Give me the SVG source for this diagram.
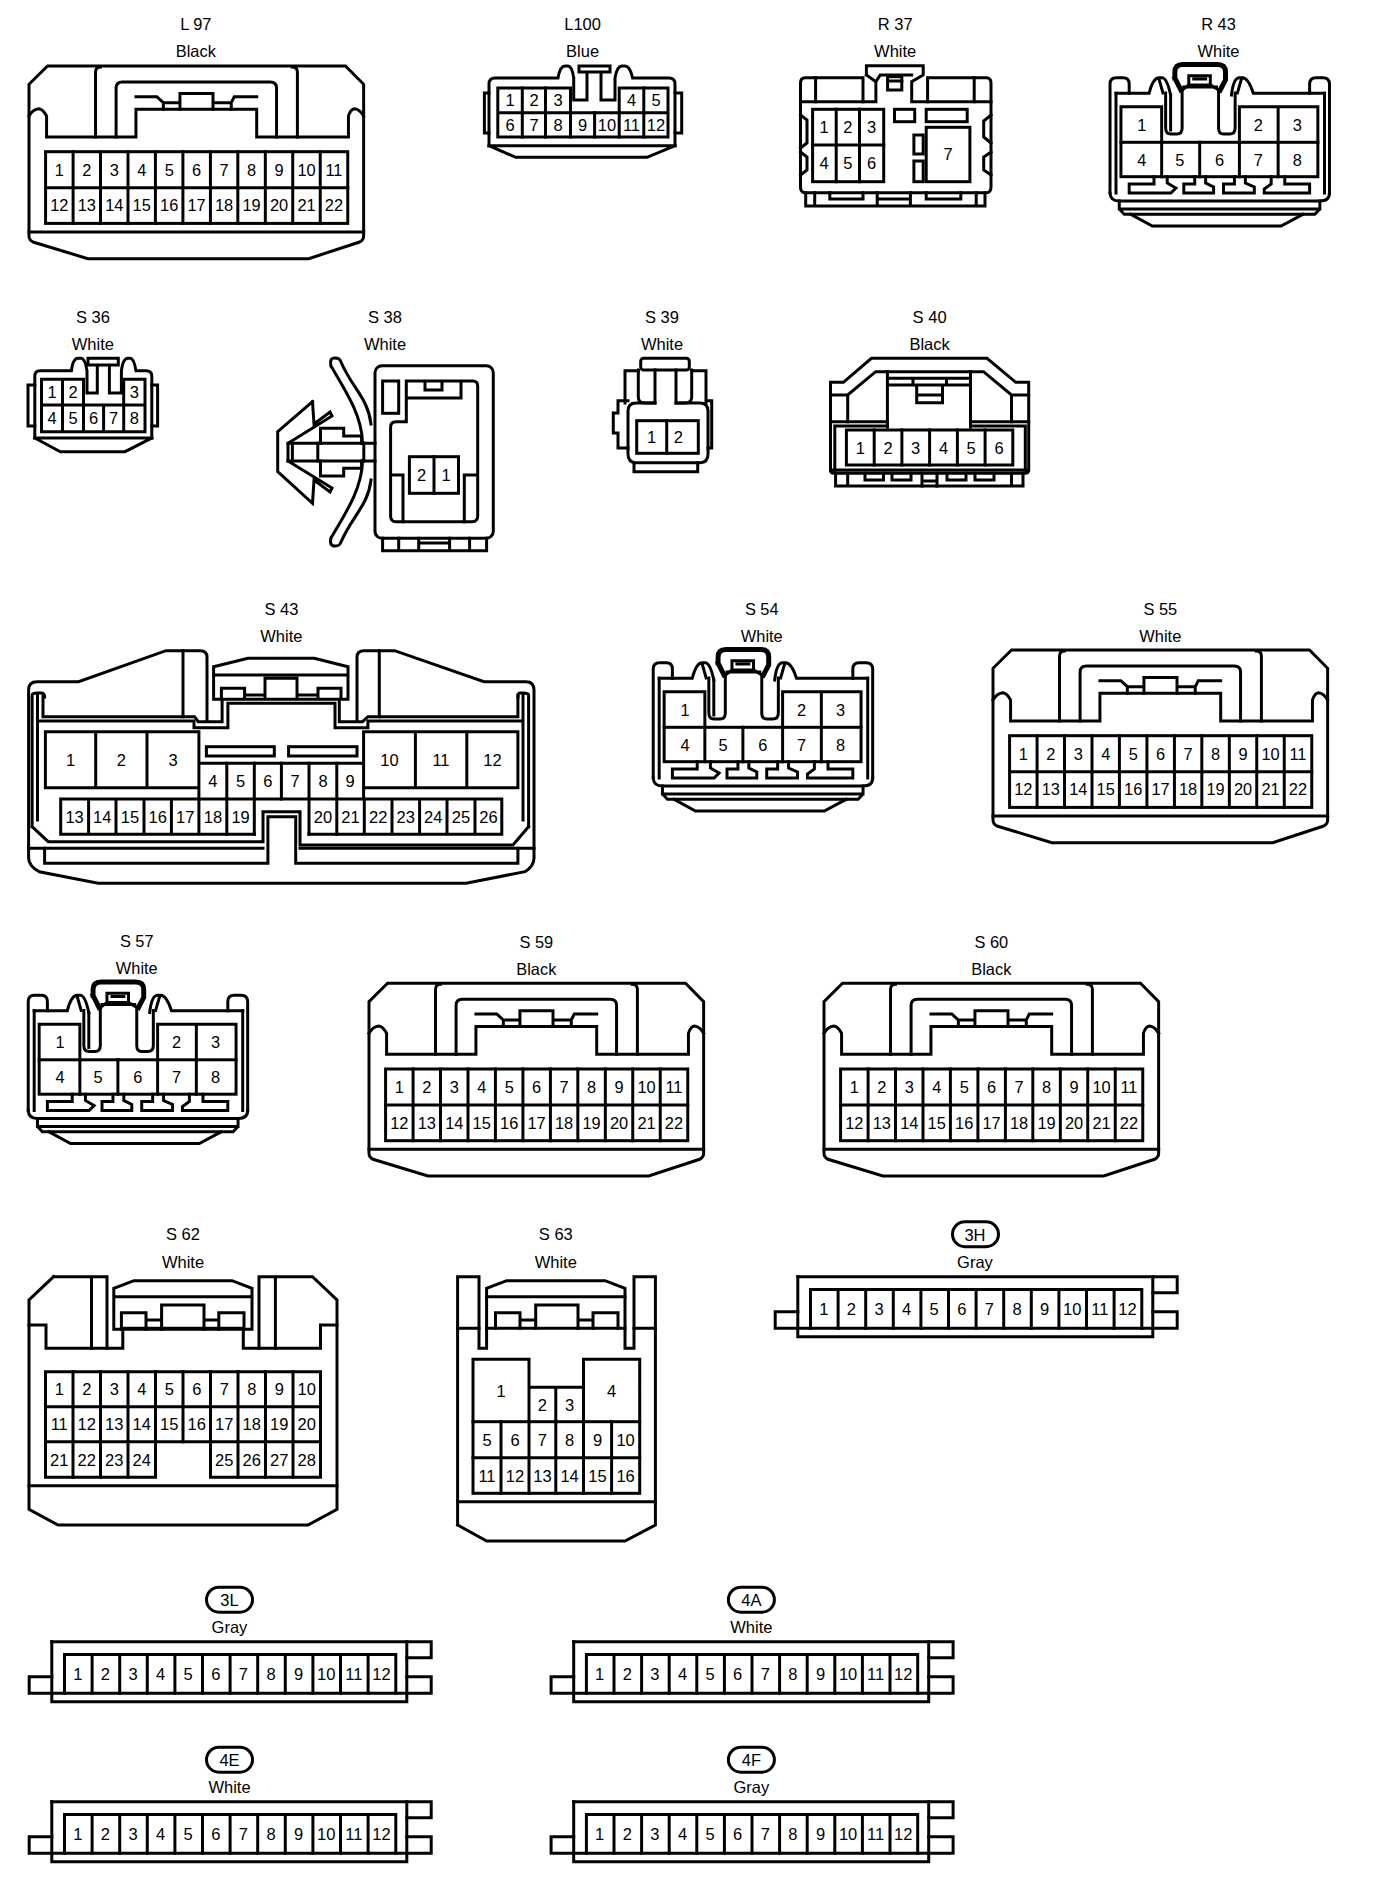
<svg xmlns="http://www.w3.org/2000/svg" xmlns:xlink="http://www.w3.org/1999/xlink" width="1376" height="1882" viewBox="0 0 1376 1882">
<style>
.l{fill:none;stroke:#000;stroke-width:3;stroke-linecap:square}
.h{fill:none;stroke:#000;stroke-width:5}
text{font-family:"Liberation Sans",Arial,sans-serif;font-size:16.5px;fill:#000;text-anchor:middle}
</style>
<defs>
<g id="b22" class="l">
<path d="M18.7,0 H318.7 L337,18.3 V170 Q337,174 333,176 L281.7,192.7 H59.3 L4,176 Q0,174 0,170 V18.3 Z"/>
<path d="M0,50 Q4,43 10,42.7 Q14,43 17.7,50 V71 H107.7 V43.3 H229.3 V71 H321.7 V50 Q324,43 327.7,42.7 Q333,43 337,50"/>
<path d="M67,71 V6 Q67,1 72,1 M270.3,71 V6 Q270.3,1 265,1"/>
<path d="M87.7,71 V22 Q87.7,16 94,16 H243 Q249.3,16 249.3,22 V71"/>
<path d="M107.7,30.7 H128.7 L135.3,36.7 H152 V27.4 H185.3 V43.3 M185.3,36.7 H203.7 L206.7,30.7 H229.3 M152,36.7 V43.3 M135.3,36.7 V43.3 M203.7,36.7 V43.3"/>
<path d="M0,166 H337"/>
<rect x="16.7" y="85.7" width="304.3" height="71.7"/>
<path d="M16.7,121.7 H321 M44.4,85.7 V157.4 M72,85.7 V157.4 M99.7,85.7 V157.4 M127.3,85.7 V157.4 M155,85.7 V157.4 M182.7,85.7 V157.4 M210.3,85.7 V157.4 M238,85.7 V157.4 M265.6,85.7 V157.4 M293.3,85.7 V157.4"/>
</g>
<g id="b12" class="l">
<path d="M0,0 V60 H355 V0"/>
<path d="M0,0 H379.4 V16 H355 M355,35 H379.4 V51.6 H-22.6 V35 H0"/>
<path d="M12.7,51.6 V12.7 H344 V51.6"/>
<path d="M40.3,12.7 V51.6 M67.9,12.7 V51.6 M95.5,12.7 V51.6 M123.1,12.7 V51.6 M150.7,12.7 V51.6 M178.3,12.7 V51.6 M205.9,12.7 V51.6 M233.5,12.7 V51.6 M261.1,12.7 V51.6 M288.7,12.7 V51.6 M316.3,12.7 V51.6"/>
</g>
<g id="b8" class="l">
<path d="M1110.7,193 V84 Q1110.7,77.7 1117,77.7 H1124 Q1130,77.7 1130,84 V93.3"/>
<path d="M1116.7,93.3 V193 M1326.7,93.3 V193"/>
<path d="M1116.7,93.3 H1150 Q1154,77.7 1160,77.7 H1163 Q1168,77.7 1171.7,95 M1160,79 L1164,93"/>
<path d="M1326.7,93.3 H1255 Q1250,77.7 1244,77.7 H1241 Q1235,77.7 1233,95 M1243,79 L1239,93"/>
<path d="M1311.7,93.3 V84 Q1311.7,77.7 1318,77.7 H1325 Q1331.7,77.7 1331.7,84 V193"/>
<path d="M1166.7,93 V128 Q1166.7,134 1172,134 H1178 Q1183.3,134 1183.3,128 V90 L1190,85 H1212 L1220,90 V128 Q1220,134 1225,134 H1231 Q1236.7,134 1236.7,128 V93"/>
<path d="M1171.7,95 V130"/>
<path class="h" d="M1176,78 V72 Q1176,64.5 1184,64.5 H1219 Q1227,64.5 1227,72 V80 L1221.7,90 M1176,78 L1182,90"/>
<path d="M1190,85 V75.7 H1211.7 V85 M1195,79 H1207 M1185,87 H1218"/>
<path d="M1121.7,142.3 V106.7 H1162.7 V142.3 M1241,142.3 V106.7 H1320 V142.3 M1280,106.7 V176.7"/>
<rect x="1121.7" y="142.3" width="198.3" height="34.4"/>
<path d="M1162.7,142.3 V176.7 M1201,142.3 V176.7 M1241,142.3 V176.7"/>
<path d="M1155,176.7 V184 H1130 V193 H1172 L1177,188 L1168.3,183 V176.7"/>
<path d="M1196,176.7 V184 H1185 V193 H1215 V187 L1207,183 V176.7"/>
<path d="M1236,176.7 V184 H1225 V193 H1256 V187 L1247,183 V176.7"/>
<path d="M1273,176.7 V184 L1266,189 V193 H1311.7 V184 H1286.7 V176.7"/>
<path d="M1110.7,193 Q1111,201 1120,201 H1322 Q1331.7,201 1331.7,193"/>
<path d="M1120,201 V209 L1125,214.3 H1317 L1322,209 V201 M1120,209 H1322"/>
<path d="M1131.7,214.3 L1153.3,226 H1283 L1305,214.3"/>
</g>
</defs>
<rect width="1376" height="1882" fill="#fff"/>

<g id="L97" transform="translate(29,66) scale(.993,1)">
<use href="#b22"/>
<text x="168" y="-36">L 97</text><text x="168" y="-9">Black</text>
<text x="30.5" y="109.7">1</text><text x="58.2" y="109.7">2</text><text x="85.9" y="109.7">3</text><text x="113.5" y="109.7">4</text><text x="141.2" y="109.7">5</text><text x="168.8" y="109.7">6</text><text x="196.5" y="109.7">7</text><text x="224.2" y="109.7">8</text><text x="251.8" y="109.7">9</text><text x="279.5" y="109.7">10</text><text x="307.1" y="109.7">11</text>
<text x="30.5" y="145.5">12</text><text x="58.2" y="145.5">13</text><text x="85.9" y="145.5">14</text><text x="113.5" y="145.5">15</text><text x="141.2" y="145.5">16</text><text x="168.8" y="145.5">17</text><text x="196.5" y="145.5">18</text><text x="224.2" y="145.5">19</text><text x="251.8" y="145.5">20</text><text x="279.5" y="145.5">21</text><text x="307.1" y="145.5">22</text>
</g>

<g id="L100">
<g class="l">
<path d="M489,145.7 V84 Q489,78 495,78 H558 Q560,66 565,66 H568 Q572,66 573.7,78 M573.7,78 V100 H587 V72 M579,72 V66 H610 V72 H579 M601,72 V100 H615 V78 Q617,66 622,66 H625 Q630,66 632.6,78 H669 Q675,78 675,84 V145.7"/>
<path d="M489,93 H484.4 V133 H489 M675,93 H681.7 V133 H675"/>
<path d="M489,145.7 H675 M489,145.7 L515.6,157.3 H647 L675,145.7"/>
<path d="M497.8,137 V88 H570.5 V112.7 M619.2,112.7 V88 H668 V137 M497.8,137 H668 M497.8,112.7 H668"/>
<path d="M522.3,88 V137 M545.5,88 V137 M570.5,112.7 V137 M594.6,112.7 V137 M619.2,112.7 V137 M643.8,88 V137"/>
</g>
<text x="582.6" y="30">L100</text><text x="582.6" y="57">Blue</text>
<text x="510" y="106">1</text><text x="534" y="106">2</text><text x="558" y="106">3</text><text x="631.5" y="106">4</text><text x="656" y="106">5</text>
<text x="510" y="131">6</text><text x="534" y="131">7</text><text x="558" y="131">8</text><text x="582.5" y="131">9</text><text x="607" y="131">10</text><text x="631.5" y="131">11</text><text x="656" y="131">12</text>
</g>

<g id="R37" transform="translate(-0.8,0)">
<g class="l">
<path d="M867.2,75 V65.7 H924 V75 L912.5,81.7 V101.7 H991.8 M867.2,75 L876.7,81.7 V101.7 H801.3 M876.7,81.7 L881,75 H912.5"/>
<path d="M863.8,101.7 V77.7 H806 Q801.3,77.7 801.3,83 V187 Q801.3,192.7 806,192.7 H987 Q991.8,192.7 991.8,187 V83 Q991.8,77.7 987,77.7 H928.4 V101.7"/>
<path d="M816.4,77.7 V101.7 M975,77.7 V101.7"/>
<rect x="888.4" y="76.7" width="14.2" height="13.3"/><path d="M888.4,81 H902.6"/>
<rect x="813.4" y="109.3" width="71.1" height="72.4"/><path d="M813.4,145 H884.5 M837,109.3 V181.7 M860.3,109.3 V181.7"/>
<rect x="895.3" y="109.3" width="20.2" height="12.4"/><rect x="927" y="109.3" width="41" height="12.4"/><rect x="914.7" y="135" width="9.3" height="19"/><rect x="914.7" y="161" width="9.3" height="20.7"/><rect x="927" y="127.3" width="43.7" height="54.4"/>
<path d="M801.3,115 L807.8,120 V143 L801.3,148 M801.3,152 L807.8,157 V170 L801.3,175 M991.8,115 L984.5,121 V137 L991.8,143 M991.8,152 L984.5,157 V170 L991.8,175"/>
<path d="M806.5,192.7 V206 H985.8 V192.7 M815.5,192.7 V206 M878,192.7 V206 M911.2,192.7 V206 M977,192.7 V206 M830.6,192.7 V199 H863.8 V192.7 M927,192.7 V199 H961.6 V192.7 M878,199 H911.2"/>
</g>
<text x="896" y="30">R 37</text><text x="896" y="57">White</text>
<text x="825" y="133">1</text><text x="848.7" y="133">2</text><text x="872.4" y="133">3</text><text x="825" y="169">4</text><text x="848.7" y="169">5</text><text x="872.4" y="169">6</text><text x="948.8" y="160">7</text>
</g>

<g id="R43" transform="translate(7.1,0) scale(.993,1)">
<use href="#b8"/>
<text x="1220" y="30">R 43</text><text x="1220" y="57">White</text>
<text x="1142.7" y="131">1</text><text x="1260" y="131">2</text><text x="1299.3" y="131">3</text><text x="1142.7" y="166">4</text><text x="1181" y="166">5</text><text x="1221" y="166">6</text><text x="1260" y="166">7</text><text x="1299.3" y="166">8</text>
</g>

<g id="S36">
<g class="l">
<path d="M34.8,438 V376 Q34.8,370.7 40,370.7 H71.4 Q73,358.3 78,358.3 H81 Q85,358.3 87,370.7 V393 H97.3 V365 M88,365 V358.3 H118.3 V365 H88 M109.4,365 V393 H121.4 V370.7 Q123,358.3 128,358.3 H130 Q134,358.3 136,370.7 H146 Q151.8,370.7 151.8,376 V438"/>
<path d="M34.8,385 H28 V426 H34.8 M151.8,385 H157.6 V426 H151.8"/>
<path d="M34.8,438 H151.8 M34.8,438 L60.3,451.7 H125 L151.8,438"/>
<path d="M41.5,431.7 V379.3 H83.5 V405 M123.7,405 V379.3 H145 V431.7 M41.5,431.7 H145 M41.5,405 H145 M62.5,379.3 V431.7 M83.5,405 V431.7 M103.6,405 V431.7 M123.7,405 V431.7"/>
</g>
<text x="92.9" y="322.7">S 36</text><text x="92.9" y="350">White</text>
<text x="52" y="398">1</text><text x="73" y="398">2</text><text x="134.3" y="398">3</text><text x="52" y="424">4</text><text x="73" y="424">5</text><text x="93.5" y="424">6</text><text x="113.6" y="424">7</text><text x="134.3" y="424">8</text>
</g>

<g id="S38">
<g class="l">
<rect x="375" y="365.7" width="118.3" height="172.6" rx="7"/>
<path d="M382.6,538.3 V550.7 H486.6 V538.3 M398.7,538.3 V550.7 M418.7,538.3 V550.7 M449.6,538.3 V550.7 M469.6,538.3 V550.7 M418.7,543 H449.6"/>
<rect x="382.6" y="381" width="16.1" height="32.3"/>
<path d="M406.3,398 V381 H473 Q477.7,381 477.7,386 V516 Q477.7,521.7 472,521.7 H396 Q390.6,521.7 390.6,516 V427 Q390.6,421.7 396,421.7 H406.3 V398 H461 V381 M425,381 V390 H442 V381"/>
<path d="M390.6,475 H403 V521.7 M477,475 H464.3 V521.7"/>
<rect x="409.4" y="456.7" width="49.1" height="36.6"/><path d="M434,456.7 V493.3"/>
<path d="M288,443.3 H375 M288,461 H375"/>
<path d="M312.5,401.7 L277.7,431.7 V471.7 L312.5,503.3 L314,480 L330,492 L332,488 L288,461 M312.5,401.7 L314,424 L330,412 L332,416 L288,443.3 V461"/>
<path d="M320.5,443.3 V428.3 H343.7 V436 H361.6 V443.3 M320.5,461 V476 H343.7 V468.3 H361.6 V461"/>
<path d="M292.4,443.3 V461 M317.8,443.3 V461 M363.8,443.3 V461"/>
<path d="M331,366 Q329,358 335,358 Q340,358 341,362 C352,388 368,398 371,424 M331,366 C345,390 362,415 362.5,443"/>
<path d="M331,538 Q329,546 335,546 Q340,546 341,542 C352,516 368,506 371,480 M331,538 C345,514 362,489 362.5,461"/>
</g>
<text x="385" y="322.7">S 38</text><text x="385" y="350">White</text>
<text x="421.7" y="481">2</text><text x="446.2" y="481">1</text>
</g>

<g id="S39">
<g class="l">
<rect x="640.7" y="358.3" width="48.6" height="11.7" rx="3"/>
<path d="M638.3,370 V397 Q638.3,403 645,403 H655 V370 M676,370 V403 H685 Q691.7,403 691.7,397 V370"/>
<path d="M625,403 V370.7 H638.3 M691.7,370.7 H706 V403"/>
<path d="M655,403 H636 Q628,403 628,411 V454 Q628,462.7 636,462.7 H700 Q708,462.7 708,454 V411 Q708,403 700,403 H676"/>
<path d="M628,400.7 H618 V413 H613.3 V433 H618 V448 H628 M708,400.7 H711.7 V448 H708"/>
<rect x="636.7" y="420.7" width="61.6" height="32.6"/><path d="M666.7,420.7 V453.3"/>
<path d="M634,462.7 V471.7 H697.7 V462.7"/>
</g>
<text x="662" y="322.7">S 39</text><text x="662" y="350">White</text>
<text x="651.7" y="443.3">1</text><text x="678.3" y="443.3">2</text>
</g>

<g id="S40" transform="translate(-1,0)">
<g class="l">
<path d="M831.5,470 V382.3 H844.4 L872.4,358.3 H988 L1016.8,382.3 H1029.7 V470 Q1029.7,473.3 1026,473.3 H835 Q831.5,473.3 831.5,470 M831.5,470 H1029.7"/>
<path d="M831.5,395 H848.7 L876.7,371.7 H984.5 L1012.5,395 H1029.7 M848.7,395 V421.7 M1012.5,395 V421.7"/>
<path d="M888.4,371.7 V427.3 M971.5,371.7 V427.3 M888.4,378.3 H971.5 M888.4,385 H971.5 M917.7,385 V402.7 H943.5 V385 M917.7,395 H943.5 M914,378.3 V385 M947.5,378.3 V385"/>
<path d="M831.5,421.7 H888.4 M971.5,421.7 H1029.7 M835.8,426 H888.4 M971.5,426 H1026.3 M835.8,426 V470 M1026.3,426 V470"/>
<rect x="847.4" y="430" width="166.4" height="35"/>
<path d="M875.2,430 V465 M902.9,430 V465 M930.6,430 V465 M958.4,430 V465 M986.1,430 V465"/>
<path d="M836.6,473.3 V486 H1024 V473.3 M848.7,473.3 V486 M1012.5,473.3 V486"/>
<path d="M866,473.3 V480 H884.5 V473.3 M893,473.3 V480 H912 V473.3 M923,473.3 V486 M938,473.3 V486 M923,481 H938 M948,473.3 V480 H967 V473.3 M976,473.3 V480 H995 V473.3"/>
</g>
<text x="930.6" y="322.7">S 40</text><text x="930.6" y="350">Black</text>
<text x="861.3" y="453.5">1</text><text x="889" y="453.5">2</text><text x="916.7" y="453.5">3</text><text x="944.5" y="453.5">4</text><text x="972.2" y="453.5">5</text><text x="1000" y="453.5">6</text>
</g>

<g id="S43">
<g class="l">
<path d="M28.6,848 V690 Q28.6,681.7 37,681.7 H78.6 L166,650.7 H200 Q207,650.7 207,657 V720 M357,720 V657 Q357,650.7 364,650.7 H394.6 L484,681.7 H526 Q534,681.7 534,690 V858 Q534,866 525,871.7 L466,883.3 H98.2 L39.3,871.7 Q28.6,866 28.6,858 V848"/>
<path d="M183,650.7 V716.7 M379.3,650.7 V716.7"/>
<path d="M213.6,699.3 V666.7 L248,658.3 H314.3 L348,666.7 V699.3 M213.6,675 H348 M213.6,699.3 H348 M265,699.3 V678.3 H297 V699.3 M221.4,699.3 V688.3 H244.6 V699.3 M318,699.3 V688.3 H341 V699.3 M244.6,695 H265 M297,695 H318"/>
<path d="M43,695 V716.7 H194.6 L198.2,721.7 H222.1 V700 M339.3,700 V721.7 H362.5 L367.9,716.7 H517.9 V695"/>
<path d="M39.3,721 H194 V727.7 H227.9 V703.3 H335 V727.7 H367.9 V721 H521.4"/>
<path d="M32.1,826.7 V695 Q32.1,693 37.5,693 H41 Q44.6,693 44.6,697 M37.5,695 V820 M528.6,826.7 V695 Q528.6,693 523,693 H520 Q518,693 518,697 M523,695 V820"/>
<path d="M32.1,826.7 L48.2,841.7 H263 V811.7 H300 V845 H513 L528.6,826.7"/>
<path d="M28.6,848.3 H263 M300,848.3 H534"/>
<path d="M44.6,848.3 V863.3 H267.9 V816.7 H295.7 V863.3 H517.9 V848.3"/>
<path d="M198.9,763.3 H363.6 M198.9,731.7 H45.4 V787.7 H198.9 M198.9,731.7 V799 M363.6,731.7 H517.9 V787.7 H363.6 M363.6,731.7 V799 M95.7,731.7 V787.7 M147,731.7 V787.7 M415.4,731.7 V787.7 M466.8,731.7 V787.7"/>
<path d="M226.8,763.3 V834.3 M254.3,763.3 V834.3 M281.4,763.3 V799 M309,763.3 V834.3 M336.8,763.3 V834.3"/>
<rect x="206.4" y="746.7" width="67.9" height="9.3"/><rect x="288.6" y="746.7" width="68.4" height="9.3"/>
<path d="M60.7,799 H501.8 V834.3 H309 M254.3,834.3 H60.7 V799 M88.6,799 V834.3 M116,799 V834.3 M144,799 V834.3 M171.4,799 V834.3 M198.9,799 V834.3 M364.3,799 V834.3 M392,799 V834.3 M419.6,799 V834.3 M447,799 V834.3 M475,799 V834.3"/>
</g>
<text x="281.4" y="615">S 43</text><text x="281.4" y="641.7">White</text>
<text x="70.5" y="765.7">1</text><text x="121.4" y="765.7">2</text><text x="173" y="765.7">3</text><text x="389.5" y="765.7">10</text><text x="441" y="765.7">11</text><text x="492.4" y="765.7">12</text>
<text x="212.9" y="787">4</text><text x="240.6" y="787">5</text><text x="267.9" y="787">6</text><text x="295.2" y="787">7</text><text x="323" y="787">8</text><text x="350.2" y="787">9</text>
<text x="74.6" y="822.7">13</text><text x="102.3" y="822.7">14</text><text x="130" y="822.7">15</text><text x="157.7" y="822.7">16</text><text x="185.2" y="822.7">17</text><text x="212.9" y="822.7">18</text><text x="240.6" y="822.7">19</text>
<text x="322.9" y="822.7">20</text><text x="350.5" y="822.7">21</text><text x="378.2" y="822.7">22</text><text x="405.8" y="822.7">23</text><text x="433.3" y="822.7">24</text><text x="461" y="822.7">25</text><text x="488.4" y="822.7">26</text>
</g>

<g id="S54" transform="translate(-449.7,585) scale(.993,1)">
<use href="#b8"/>
<text x="1220" y="30">S 54</text><text x="1220" y="57">White</text>
<text x="1142.7" y="131">1</text><text x="1260" y="131">2</text><text x="1299.3" y="131">3</text><text x="1142.7" y="166">4</text><text x="1181" y="166">5</text><text x="1221" y="166">6</text><text x="1260" y="166">7</text><text x="1299.3" y="166">8</text>
</g>

<g id="S55" transform="translate(993,650) scale(.993,1)">
<use href="#b22"/>
<text x="168.5" y="-35">S 55</text><text x="168.5" y="-8.3">White</text>
<text x="30.5" y="109.7">1</text><text x="58.2" y="109.7">2</text><text x="85.9" y="109.7">3</text><text x="113.5" y="109.7">4</text><text x="141.2" y="109.7">5</text><text x="168.8" y="109.7">6</text><text x="196.5" y="109.7">7</text><text x="224.2" y="109.7">8</text><text x="251.8" y="109.7">9</text><text x="279.5" y="109.7">10</text><text x="307.1" y="109.7">11</text>
<text x="30.5" y="145.5">12</text><text x="58.2" y="145.5">13</text><text x="85.9" y="145.5">14</text><text x="113.5" y="145.5">15</text><text x="141.2" y="145.5">16</text><text x="168.8" y="145.5">17</text><text x="196.5" y="145.5">18</text><text x="224.2" y="145.5">19</text><text x="251.8" y="145.5">20</text><text x="279.5" y="145.5">21</text><text x="307.1" y="145.5">22</text>
</g>

<g id="S57" transform="translate(-1074.7,917.5) scale(.993,1)">
<use href="#b8"/>
<text x="1220" y="30">S 57</text><text x="1220" y="57">White</text>
<text x="1142.7" y="131">1</text><text x="1260" y="131">2</text><text x="1299.3" y="131">3</text><text x="1142.7" y="166">4</text><text x="1181" y="166">5</text><text x="1221" y="166">6</text><text x="1260" y="166">7</text><text x="1299.3" y="166">8</text>
</g>

<g id="S59" transform="translate(369,983.3) scale(.993,1)">
<use href="#b22"/>
<text x="168.5" y="-35">S 59</text><text x="168.5" y="-8.3">Black</text>
<text x="30.5" y="109.7">1</text><text x="58.2" y="109.7">2</text><text x="85.9" y="109.7">3</text><text x="113.5" y="109.7">4</text><text x="141.2" y="109.7">5</text><text x="168.8" y="109.7">6</text><text x="196.5" y="109.7">7</text><text x="224.2" y="109.7">8</text><text x="251.8" y="109.7">9</text><text x="279.5" y="109.7">10</text><text x="307.1" y="109.7">11</text>
<text x="30.5" y="145.5">12</text><text x="58.2" y="145.5">13</text><text x="85.9" y="145.5">14</text><text x="113.5" y="145.5">15</text><text x="141.2" y="145.5">16</text><text x="168.8" y="145.5">17</text><text x="196.5" y="145.5">18</text><text x="224.2" y="145.5">19</text><text x="251.8" y="145.5">20</text><text x="279.5" y="145.5">21</text><text x="307.1" y="145.5">22</text>
</g>

<g id="S60" transform="translate(824,983.3) scale(.993,1)">
<use href="#b22"/>
<text x="168.5" y="-35">S 60</text><text x="168.5" y="-8.3">Black</text>
<text x="30.5" y="109.7">1</text><text x="58.2" y="109.7">2</text><text x="85.9" y="109.7">3</text><text x="113.5" y="109.7">4</text><text x="141.2" y="109.7">5</text><text x="168.8" y="109.7">6</text><text x="196.5" y="109.7">7</text><text x="224.2" y="109.7">8</text><text x="251.8" y="109.7">9</text><text x="279.5" y="109.7">10</text><text x="307.1" y="109.7">11</text>
<text x="30.5" y="145.5">12</text><text x="58.2" y="145.5">13</text><text x="85.9" y="145.5">14</text><text x="113.5" y="145.5">15</text><text x="141.2" y="145.5">16</text><text x="168.8" y="145.5">17</text><text x="196.5" y="145.5">18</text><text x="224.2" y="145.5">19</text><text x="251.8" y="145.5">20</text><text x="279.5" y="145.5">21</text><text x="307.1" y="145.5">22</text>
</g>

<g id="S62">
<g class="l">
<path d="M53.6,1276.7 H107 V1348.3 M91.5,1276.7 V1348.3 M259,1348.3 V1276.7 H312.5 L337,1300 V1509.3 L308,1525 H58 L29,1509.3 V1300 L53.6,1276.7 M275.4,1276.7 V1348.3"/>
<path d="M29,1325 H46 V1348.3 H122.8 V1328.3 H243.3 V1348.3 H320.5 V1325 H337"/>
<path d="M29,1485.7 H337"/>
<path d="M113.8,1329.3 V1288.3 L134,1280.7 H232 L252,1288.3 V1329.3 H113.8 M113.8,1296.7 H252"/>
<path d="M161.6,1329.3 V1305 H204 V1329.3 M121.4,1329.3 V1312.7 H146 V1329.3 M218.8,1329.3 V1312.7 H244 V1329.3 M146,1320 H161.6 M204,1320 H218.8"/>
<path d="M45.5,1371.7 H320.5 V1477.3 H210.5 V1441.7 H155.5 V1477.3 H45.5 Z M45.5,1406.7 H320.5 M45.5,1441.7 H320.5"/>
<path d="M73,1371.7 V1477.3 M100.5,1371.7 V1477.3 M128,1371.7 V1477.3 M155.5,1371.7 V1441.7 M183,1371.7 V1441.7 M210.5,1371.7 V1441.7 M238,1371.7 V1477.3 M265.5,1371.7 V1477.3 M293,1371.7 V1477.3"/>
</g>
<text x="183" y="1240">S 62</text><text x="183" y="1267.7">White</text>
<text x="59.25" y="1395">1</text><text x="86.75" y="1395">2</text><text x="114.25" y="1395">3</text><text x="141.75" y="1395">4</text><text x="169.25" y="1395">5</text><text x="196.75" y="1395">6</text><text x="224.25" y="1395">7</text><text x="251.75" y="1395">8</text><text x="279.25" y="1395">9</text><text x="306.75" y="1395">10</text>
<text x="59.25" y="1430">11</text><text x="86.75" y="1430">12</text><text x="114.25" y="1430">13</text><text x="141.75" y="1430">14</text><text x="169.25" y="1430">15</text><text x="196.75" y="1430">16</text><text x="224.25" y="1430">17</text><text x="251.75" y="1430">18</text><text x="279.25" y="1430">19</text><text x="306.75" y="1430">20</text>
<text x="59.25" y="1465.5">21</text><text x="86.75" y="1465.5">22</text><text x="114.25" y="1465.5">23</text><text x="141.75" y="1465.5">24</text><text x="224.25" y="1465.5">25</text><text x="251.75" y="1465.5">26</text><text x="279.25" y="1465.5">27</text><text x="306.75" y="1465.5">28</text>
</g>

<g id="S63">
<g class="l">
<path d="M457.6,1525 V1276.7 H479 V1348.3 H486.6 V1288.3 L506.7,1280.7 H605 L625,1288.3 V1348.3 H634 V1276.7 H655.4 V1525 L625,1541 H486.6 L457.6,1525"/>
<path d="M457.6,1328.3 H479 M486.6,1328.3 H625 M634,1328.3 H655.4 M486.6,1296.7 H625 M457.6,1501.7 H655.4"/>
<path d="M535.7,1328.3 V1305 H578 V1328.3 M495.5,1328.3 V1312.7 H520 V1328.3 M593,1328.3 V1312.7 H618 V1328.3 M520,1320 H535.7 M578,1320 H593"/>
<path d="M473,1421.7 V1359.3 H529 V1421.7 M583.5,1421.7 V1359.3 H639.7 V1421.7 M529,1387.3 H583.5 M555.8,1387.3 V1421.7"/>
<rect x="473" y="1421.7" width="166.7" height="71.6"/>
<path d="M473,1457.7 H639.7 M501,1421.7 V1493.3 M529,1421.7 V1493.3 M555.8,1421.7 V1493.3 M583.5,1421.7 V1493.3 M611.6,1421.7 V1493.3"/>
</g>
<text x="555.8" y="1240">S 63</text><text x="555.8" y="1267.7">White</text>
<text x="501" y="1396.5">1</text><text x="542.4" y="1410.5">2</text><text x="569.6" y="1410.5">3</text><text x="611.6" y="1396.5">4</text>
<text x="487" y="1445.7">5</text><text x="515" y="1445.7">6</text><text x="542.4" y="1445.7">7</text><text x="569.6" y="1445.7">8</text><text x="597.5" y="1445.7">9</text><text x="625.6" y="1445.7">10</text>
<text x="487" y="1481.5">11</text><text x="515" y="1481.5">12</text><text x="542.4" y="1481.5">13</text><text x="569.6" y="1481.5">14</text><text x="597.5" y="1481.5">15</text><text x="625.6" y="1481.5">16</text>
</g>

<g id="C3H" transform="translate(797.8,1276.7)">
<use href="#b12"/>
<rect class="l" x="154.7" y="-55" width="46" height="25" rx="12.5"/><text x="177.2" y="-36">3H</text><text x="177.2" y="-9">Gray</text>
<text x="26" y="38.3">1</text><text x="53.6" y="38.3">2</text><text x="81.2" y="38.3">3</text><text x="108.8" y="38.3">4</text><text x="136.4" y="38.3">5</text><text x="164" y="38.3">6</text><text x="191.6" y="38.3">7</text><text x="219.2" y="38.3">8</text><text x="246.8" y="38.3">9</text><text x="274.4" y="38.3">10</text><text x="302" y="38.3">11</text><text x="329.6" y="38.3">12</text>
</g>

<g id="C3L" transform="translate(51.8,1641.7)">
<use href="#b12"/>
<rect class="l" x="154.7" y="-54.5" width="46" height="25" rx="12.5"/><text x="177.7" y="-36">3L</text><text x="177.7" y="-9">Gray</text>
<text x="26" y="38.3">1</text><text x="53.6" y="38.3">2</text><text x="81.2" y="38.3">3</text><text x="108.8" y="38.3">4</text><text x="136.4" y="38.3">5</text><text x="164" y="38.3">6</text><text x="191.6" y="38.3">7</text><text x="219.2" y="38.3">8</text><text x="246.8" y="38.3">9</text><text x="274.4" y="38.3">10</text><text x="302" y="38.3">11</text><text x="329.6" y="38.3">12</text>
</g>

<g id="C4A" transform="translate(573.7,1641.7)">
<use href="#b12"/>
<rect class="l" x="154.7" y="-54.5" width="46" height="25" rx="12.5"/><text x="177.7" y="-36">4A</text><text x="177.7" y="-9">White</text>
<text x="26" y="38.3">1</text><text x="53.6" y="38.3">2</text><text x="81.2" y="38.3">3</text><text x="108.8" y="38.3">4</text><text x="136.4" y="38.3">5</text><text x="164" y="38.3">6</text><text x="191.6" y="38.3">7</text><text x="219.2" y="38.3">8</text><text x="246.8" y="38.3">9</text><text x="274.4" y="38.3">10</text><text x="302" y="38.3">11</text><text x="329.6" y="38.3">12</text>
</g>

<g id="C4E" transform="translate(51.8,1801.7)">
<use href="#b12"/>
<rect class="l" x="154.7" y="-54.5" width="46" height="25" rx="12.5"/><text x="177.7" y="-36">4E</text><text x="177.7" y="-9">White</text>
<text x="26" y="38.3">1</text><text x="53.6" y="38.3">2</text><text x="81.2" y="38.3">3</text><text x="108.8" y="38.3">4</text><text x="136.4" y="38.3">5</text><text x="164" y="38.3">6</text><text x="191.6" y="38.3">7</text><text x="219.2" y="38.3">8</text><text x="246.8" y="38.3">9</text><text x="274.4" y="38.3">10</text><text x="302" y="38.3">11</text><text x="329.6" y="38.3">12</text>
</g>

<g id="C4F" transform="translate(573.7,1801.7)">
<use href="#b12"/>
<rect class="l" x="154.7" y="-54.5" width="46" height="25" rx="12.5"/><text x="177.7" y="-36">4F</text><text x="177.7" y="-9">Gray</text>
<text x="26" y="38.3">1</text><text x="53.6" y="38.3">2</text><text x="81.2" y="38.3">3</text><text x="108.8" y="38.3">4</text><text x="136.4" y="38.3">5</text><text x="164" y="38.3">6</text><text x="191.6" y="38.3">7</text><text x="219.2" y="38.3">8</text><text x="246.8" y="38.3">9</text><text x="274.4" y="38.3">10</text><text x="302" y="38.3">11</text><text x="329.6" y="38.3">12</text>
</g>
</svg>
